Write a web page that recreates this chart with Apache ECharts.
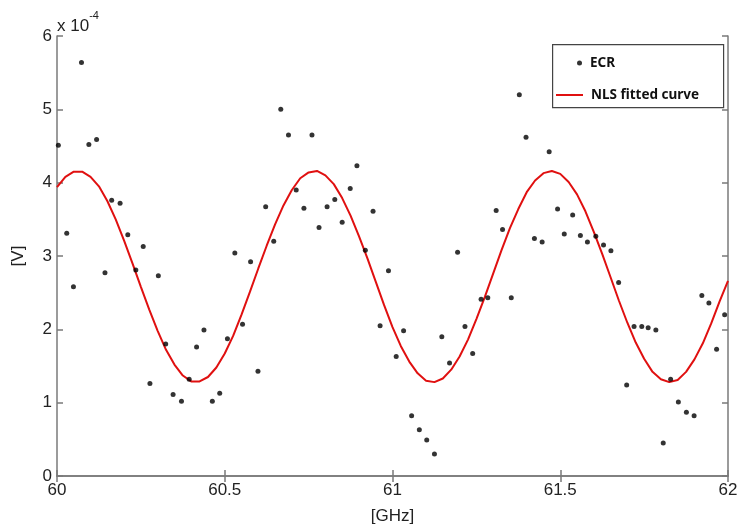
<!DOCTYPE html>
<html>
<head>
<meta charset="utf-8">
<script src="https://cdn.jsdelivr.net/npm/echarts@6/dist/echarts.min.js"></script>
<style>html,body{margin:0;padding:0;background:#fff}#c{width:742px;height:532px}</style>
</head>
<body>
<div id="c"></div>
<script>
// ECR measured points: frequency [GHz] and voltage [x 1e-4 V]
var ecrX = [60.004,60.029,60.049,60.073,60.095,60.118,60.143,60.163,60.188,60.211,60.235,60.257,60.277,60.302,60.324,60.346,60.371,60.394,60.416,60.438,60.463,60.485,60.508,60.530,60.553,60.577,60.599,60.622,60.646,60.667,60.690,60.713,60.736,60.760,60.781,60.805,60.828,60.850,60.874,60.894,60.919,60.942,60.963,60.988,61.011,61.033,61.057,61.080,61.102,61.125,61.147,61.170,61.194,61.216,61.239,61.264,61.284,61.309,61.328,61.354,61.378,61.398,61.423,61.446,61.467,61.492,61.512,61.537,61.560,61.581,61.606,61.629,61.651,61.674,61.698,61.720,61.743,61.762,61.785,61.807,61.829,61.852,61.876,61.899,61.922,61.943,61.966,61.990];
var ecrY = [4.51,3.31,2.58,5.64,4.52,4.59,2.77,3.76,3.72,3.29,2.81,3.13,1.26,2.73,1.80,1.11,1.02,1.32,1.76,1.99,1.02,1.13,1.87,3.04,2.07,2.92,1.43,3.67,3.20,5.00,4.65,3.90,3.65,4.65,3.39,3.67,3.77,3.46,3.92,4.23,3.08,3.61,2.05,2.80,1.63,1.98,0.82,0.63,0.49,0.30,1.90,1.54,3.05,2.04,1.67,2.41,2.43,3.62,3.36,2.43,5.20,4.62,3.24,3.19,4.42,3.64,3.30,3.56,3.28,3.19,3.27,3.15,3.07,2.64,1.24,2.04,2.04,2.02,1.99,0.45,1.32,1.01,0.87,0.82,2.46,2.36,1.73,2.20];
// NLS fitted curve, read every 0.025 GHz
var fitX = [60.000,60.025,60.050,60.075,60.100,60.125,60.150,60.175,60.200,60.225,60.250,60.275,60.300,60.325,60.350,60.375,60.400,60.425,60.450,60.475,60.500,60.525,60.550,60.575,60.600,60.625,60.650,60.675,60.700,60.725,60.750,60.775,60.800,60.825,60.850,60.875,60.900,60.925,60.950,60.975,61.000,61.025,61.050,61.075,61.100,61.125,61.150,61.175,61.200,61.225,61.250,61.275,61.300,61.325,61.350,61.375,61.400,61.425,61.450,61.475,61.500,61.525,61.550,61.575,61.600,61.625,61.650,61.675,61.700,61.725,61.750,61.775,61.800,61.825,61.850,61.875,61.900,61.925,61.950,61.975,62.000];
var fitY = [3.94,4.08,4.15,4.15,4.08,3.95,3.75,3.50,3.21,2.90,2.58,2.27,1.98,1.72,1.52,1.37,1.29,1.29,1.35,1.48,1.67,1.91,2.20,2.51,2.83,3.14,3.43,3.69,3.90,4.06,4.14,4.16,4.10,3.98,3.79,3.55,3.27,2.97,2.65,2.33,2.03,1.77,1.56,1.40,1.30,1.28,1.33,1.45,1.63,1.86,2.14,2.44,2.76,3.08,3.38,3.64,3.87,4.03,4.13,4.16,4.12,4.01,3.84,3.61,3.33,3.03,2.71,2.39,2.09,1.82,1.60,1.42,1.32,1.28,1.31,1.42,1.59,1.81,2.08,2.38,2.66];
var xTicks = ['60','60.5','61','61.5','62'];
var yTicks = ['0','1','2','3','4','5','6'];

function pairs(xs, ys){ var o=[]; for(var i=0;i<xs.length;i++) o.push([xs[i],ys[i]]); return o; }

var chart = echarts.init(document.getElementById('c'), null, {renderer:'canvas'});
var axisCol = '#7a7a7a';
var lblFont = 'Liberation Sans, Arial, sans-serif';
var xLabelMap = {}; xTicks.forEach(function(t){ xLabelMap[parseFloat(t).toFixed(1)] = t; });
chart.setOption({
  backgroundColor:'#fff',
  animation:false,
  grid:{left:57,right:14,top:36,bottom:56,containLabel:false},
  legend:[
    {data:[{name:'ECR',icon:'circle'}],left:577,top:56,padding:0,orient:'vertical',itemWidth:5,itemHeight:5,itemGap:0,
     textStyle:{fontFamily:'Noto Sans, sans-serif',fontWeight:'bold',fontSize:13.5,color:'#111',padding:[0,0,0,3]}},
    {data:[{name:'NLS fitted curve',icon:'rect'}],left:556,top:88,padding:0,orient:'vertical',itemWidth:27,itemHeight:2,itemGap:0,
     itemStyle:{color:'#e01010'},
     textStyle:{fontFamily:'Noto Sans, sans-serif',fontWeight:'bold',fontSize:13.5,color:'#111',padding:[0,0,0,3]}}
  ],
  graphic:[
    {type:'rect',left:552,top:44,shape:{width:171,height:63},style:{fill:'rgba(0,0,0,0)',stroke:'#444',lineWidth:1.2},z:100},
    {type:'text',left:57,top:10,style:{rich:{a:{fontSize:17,fontFamily:lblFont,fill:'#222',padding:[8,0,0,0]},b:{fontSize:11,fontFamily:lblFont,fill:'#222',verticalAlign:'top'}},text:'{a|x 10}{b|-4}'}}
  ],
  xAxis:[
    {type:'value',min:60,max:62,interval:0.5,position:'bottom',
     name:'[GHz]',nameLocation:'middle',nameGap:32,
     nameTextStyle:{fontFamily:lblFont,fontSize:17,color:'#222'},
     axisLine:{lineStyle:{color:axisCol,width:1.5}},
     axisTick:{inside:true,length:6,lineStyle:{color:axisCol,width:1.5}},
     axisLabel:{margin:6,fontFamily:lblFont,fontSize:17,color:'#222',
       formatter:function(v){ return xLabelMap[v.toFixed(1)] || ''; }},
     splitLine:{show:false}},
    {type:'value',min:60,max:62,interval:0.5,position:'top',
     axisLine:{show:true,lineStyle:{color:axisCol,width:1.5}},
     axisTick:{inside:true,length:6,lineStyle:{color:axisCol,width:1.5}},
     axisLabel:{show:false},splitLine:{show:false}}
  ],
  yAxis:[
    {type:'value',min:0,max:6,interval:1,position:'left',
     name:'[V]',nameLocation:'middle',nameGap:30,
     nameTextStyle:{fontFamily:lblFont,fontSize:17,color:'#222'},
     axisLine:{show:true,lineStyle:{color:axisCol,width:1.5}},
     axisTick:{show:true,inside:true,length:6,lineStyle:{color:axisCol,width:1.5}},
     axisLabel:{margin:5,fontFamily:lblFont,fontSize:17,color:'#222',
       formatter:function(v){ return yTicks[Math.round(v)] || ''; }},
     splitLine:{show:false}},
    {type:'value',min:0,max:6,interval:1,position:'right',
     axisLine:{show:true,lineStyle:{color:axisCol,width:1.5}},
     axisTick:{show:true,inside:true,length:6,lineStyle:{color:axisCol,width:1.5}},
     axisLabel:{show:false},splitLine:{show:false}}
  ],
  series:[
    {name:'ECR',type:'scatter',data:pairs(ecrX,ecrY),symbol:'circle',symbolSize:5,
     itemStyle:{color:'#000'},z:5},
    {name:'NLS fitted curve',type:'line',data:pairs(fitX,fitY),smooth:false,symbol:'none',
     lineStyle:{color:'#e01010',width:2},itemStyle:{color:'#e01010'},z:4}
  ]
});
</script>
</body>
</html>
